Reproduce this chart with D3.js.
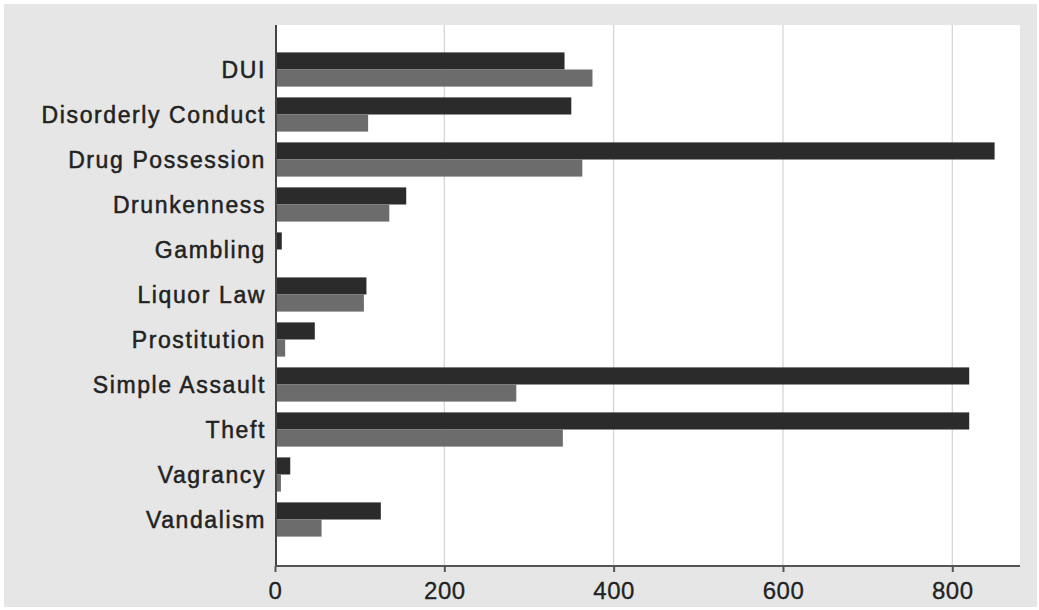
<!DOCTYPE html>
<html><head><meta charset="utf-8">
<script src="https://cdn.jsdelivr.net/npm/d3@7"></script>
<style>html,body{margin:0;padding:0;background:#fff;}svg{display:block;}</style>
</head><body>
<svg id="chart" width="1039" height="610"></svg>
<script>
const categories = ["DUI","Disorderly Conduct","Drug Possession","Drunkenness","Gambling","Liquor Law","Prostitution","Simple Assault","Theft","Vagrancy","Vandalism"];
const seriesDark = [342, 350, 850, 155, 8, 108, 47, 820, 820, 18, 125];
const seriesGrey = [375, 110, 363, 135, 1, 105, 12, 285, 340, 7, 55];
const xTicks = [0, 200, 400, 600, 800];

const svg = d3.select("#chart");
const W = 1039, H = 610;
const m = {left: 275, right: 1020, top: 25, bottom: 566};

svg.append("rect").attr("x", 4).attr("y", 4).attr("width", W - 6).attr("height", H - 7).attr("fill", "#e5e6e5");
svg.append("rect").attr("x", m.left).attr("y", m.top).attr("width", m.right - m.left).attr("height", m.bottom - m.top).attr("fill", "#ffffff");

const x = d3.scaleLinear().domain([0, 880]).range([m.left, m.right]);
const y = d3.scaleBand().domain(categories).range([m.top + 22, m.top + 22 + 45 * categories.length]).paddingInner(0.24).paddingOuter(0.12);
const sub = d3.scaleBand().domain(["dark", "grey"]).range([0, y.bandwidth()]);

// gridlines
svg.append("g").selectAll("line").data(xTicks.filter(d => d > 0)).join("line")
  .attr("x1", d => x(d)).attr("x2", d => x(d)).attr("y1", m.top).attr("y2", m.bottom)
  .attr("stroke", "#d2d2d2").attr("stroke-width", 1.2);

const rows = svg.append("g").selectAll("g").data(categories).join("g")
  .attr("transform", d => `translate(0,${y(d)})`);
rows.append("rect").attr("x", x(0)).attr("y", sub("dark"))
  .attr("width", (d, i) => x(seriesDark[i]) - x(0)).attr("height", sub.bandwidth())
  .attr("fill", "#2b2b2b");
rows.append("rect").attr("x", x(0)).attr("y", sub("grey"))
  .attr("width", (d, i) => x(seriesGrey[i]) - x(0)).attr("height", sub.bandwidth())
  .attr("fill", "#6c6c6c");

// y axis
const yAxis = svg.append("g").attr("transform", `translate(${m.left + 1},0)`)
  .call(d3.axisLeft(y).tickSize(0).tickPadding(10));
yAxis.select(".domain").remove();
svg.append("line").attr("x1", m.left + 1).attr("x2", m.left + 1).attr("y1", m.top).attr("y2", m.bottom)
  .attr("stroke", "#444").attr("stroke-width", 2);
yAxis.selectAll("text").attr("font-family", "Liberation Sans, Arial, sans-serif").attr("font-size", 23)
  .attr("letter-spacing", "1.6px")
  .attr("fill", "#222").attr("stroke", "#222").attr("stroke-width", 0.5).attr("dy", "0.35em");

// x axis
const xAxis = svg.append("g").attr("transform", `translate(0,${m.bottom})`)
  .call(d3.axisBottom(x).tickValues(xTicks).tickSize(6).tickPadding(10).tickFormat(d3.format("d")));
xAxis.select(".domain").attr("d", `M${m.left},0H${m.right}`).attr("stroke", "#555").attr("stroke-width", 2);
xAxis.selectAll(".tick line").attr("stroke", "#555").attr("stroke-width", 2);
xAxis.selectAll("text").attr("font-family", "Liberation Sans, Arial, sans-serif").attr("font-size", 24)
  .attr("letter-spacing", "0.5px")
  .attr("fill", "#222").attr("stroke", "#222").attr("stroke-width", 0.3);
</script>
</body></html>
